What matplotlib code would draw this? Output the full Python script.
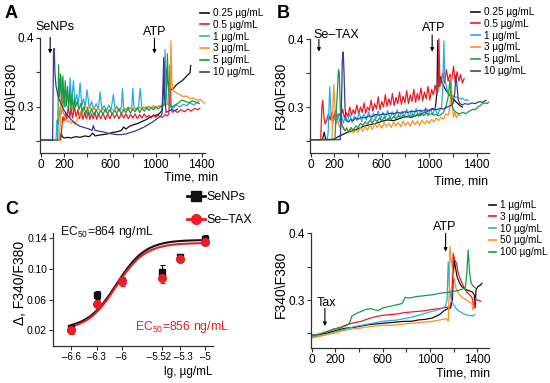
import numpy as np
import matplotlib
matplotlib.use('Agg')
import matplotlib.pyplot as plt
import matplotlib.transforms as mtransforms
from matplotlib.lines import Line2D

plt.rcParams['font.family'] = ['Liberation Sans', 'DejaVu Sans']
plt.rcParams['mathtext.fontset'] = 'custom'
plt.rcParams['mathtext.rm'] = 'Liberation Sans'
plt.rcParams['mathtext.it'] = 'Liberation Sans:italic'

W, H = 550, 383

# ---------------- data ----------------
# panel A: SeNPs, time (min) and F340/F380
a_black_t = [0, 150, 165, 175, 185, 200, 230, 260, 300, 340,
             380, 420, 450, 470, 500, 540, 580, 620, 660, 700,
             720, 740, 770, 800, 840, 880, 920, 960, 1000, 1030,
             1055, 1070, 1080, 1090, 1100, 1115, 1130, 1150, 1180, 1210,
             1230, 1255, 1275, 1290, 1300, 1305]
a_black_v = [0.252, 0.252, 0.253, 0.262, 0.257, 0.255, 0.256, 0.255, 0.257, 0.256,
             0.258, 0.257, 0.262, 0.258, 0.259, 0.260, 0.261, 0.263, 0.264, 0.266,
             0.271, 0.268, 0.272, 0.274, 0.276, 0.279, 0.282, 0.286, 0.288, 0.290,
             0.295, 0.330, 0.366, 0.354, 0.340, 0.330, 0.325, 0.326, 0.332, 0.336,
             0.338, 0.342, 0.346, 0.348, 0.350, 0.360]
a_red_t = [0, 170, 180, 190, 200, 212, 225, 237, 250, 262,
           275, 290, 305, 320, 335, 350, 365, 380, 395, 410,
           425, 440, 455, 470, 485, 500, 520, 540, 560, 580,
           600, 620, 640, 660, 680, 700, 720, 740, 760, 780,
           800, 820, 840, 860, 880, 900, 920, 940, 960, 980,
           1000, 1020, 1040, 1060, 1080, 1100, 1115, 1125, 1133, 1145,
           1165, 1190, 1220, 1250, 1280, 1310, 1340, 1370, 1385]
a_red_v = [0.252, 0.252, 0.270, 0.286, 0.280, 0.292, 0.283, 0.302, 0.285, 0.298,
           0.284, 0.300, 0.286, 0.296, 0.283, 0.294, 0.282, 0.292, 0.283, 0.293,
           0.282, 0.290, 0.283, 0.292, 0.282, 0.290, 0.283, 0.291, 0.282, 0.290,
           0.283, 0.291, 0.284, 0.290, 0.283, 0.291, 0.284, 0.290, 0.283, 0.289,
           0.284, 0.290, 0.283, 0.289, 0.284, 0.290, 0.285, 0.288, 0.284, 0.289,
           0.285, 0.288, 0.286, 0.285, 0.289, 0.287, 0.290, 0.361, 0.300, 0.292,
           0.295, 0.292, 0.296, 0.293, 0.297, 0.294, 0.298, 0.296, 0.298]
a_cyan_t = [0, 130, 138, 150, 165, 180, 195, 210, 225, 240,
            253, 265, 282, 295, 310, 325, 340, 355, 370, 385,
            400, 420, 440, 460, 480, 500, 515, 530, 550, 570,
            590, 610, 630, 645, 660, 680, 700, 710, 720, 740,
            760, 790, 800, 810, 830, 850, 864, 880, 900, 920,
            940, 960, 980, 1000, 1020, 1040, 1060, 1075, 1082, 1090,
            1100, 1120, 1150, 1180, 1210, 1240, 1270, 1300, 1330, 1360,
            1375]
a_cyan_v = [0.252, 0.252, 0.281, 0.275, 0.300, 0.290, 0.315, 0.300, 0.322, 0.305,
            0.342, 0.306, 0.338, 0.305, 0.318, 0.303, 0.335, 0.302, 0.312, 0.300,
            0.325, 0.298, 0.308, 0.296, 0.305, 0.297, 0.322, 0.296, 0.302, 0.295,
            0.303, 0.296, 0.318, 0.297, 0.301, 0.296, 0.300, 0.327, 0.298, 0.296,
            0.300, 0.297, 0.327, 0.298, 0.297, 0.300, 0.327, 0.298, 0.300, 0.297,
            0.301, 0.298, 0.300, 0.299, 0.301, 0.300, 0.302, 0.310, 0.383, 0.330,
            0.305, 0.302, 0.298, 0.303, 0.300, 0.304, 0.302, 0.306, 0.303, 0.306,
            0.308]
a_orange_t = [0, 160, 170, 178, 186, 195, 205, 220, 235, 250,
              265, 280, 295, 310, 325, 340, 355, 370, 385, 400,
              420, 440, 460, 480, 500, 520, 540, 560, 580, 600,
              620, 640, 660, 680, 700, 720, 740, 760, 780, 800,
              820, 840, 860, 880, 900, 920, 940, 960, 980, 1000,
              1020, 1040, 1060, 1080, 1100, 1115, 1125, 1133, 1140, 1150,
              1165, 1185, 1210, 1240, 1270, 1300, 1330, 1360, 1390, 1410,
              1425]
a_orange_v = [0.252, 0.252, 0.290, 0.342, 0.300, 0.292, 0.285, 0.281, 0.278, 0.280,
              0.276, 0.279, 0.275, 0.280, 0.285, 0.290, 0.295, 0.300, 0.302, 0.298,
              0.302, 0.296, 0.300, 0.295, 0.298, 0.294, 0.297, 0.293, 0.296, 0.294,
              0.297, 0.295, 0.298, 0.294, 0.297, 0.295, 0.298, 0.296, 0.299, 0.296,
              0.299, 0.297, 0.300, 0.297, 0.300, 0.298, 0.301, 0.299, 0.302, 0.300,
              0.301, 0.302, 0.300, 0.303, 0.304, 0.306, 0.330, 0.396, 0.340, 0.325,
              0.322, 0.320, 0.318, 0.315, 0.316, 0.312, 0.313, 0.310, 0.311, 0.308,
              0.305]
a_green_t = [0, 145, 152, 160, 170, 180, 190, 200, 210, 220,
             230, 240, 250, 260, 270, 280, 290, 300, 315, 330,
             345, 360, 375, 390, 405, 420, 440, 460, 480, 500,
             520, 540, 560, 580, 600, 620, 640, 660, 680, 700,
             720, 740, 760, 780, 800, 820, 840, 860, 880, 900,
             920, 940, 960, 980, 1000, 1020, 1040, 1060, 1080, 1095,
             1102, 1110, 1120, 1140, 1170, 1200, 1230, 1260, 1290, 1320,
             1350, 1380]
a_green_v = [0.252, 0.252, 0.361, 0.315, 0.348, 0.305, 0.345, 0.300, 0.338, 0.302,
             0.330, 0.298, 0.325, 0.296, 0.318, 0.294, 0.312, 0.300, 0.308, 0.296,
             0.305, 0.292, 0.300, 0.290, 0.298, 0.288, 0.297, 0.289, 0.296, 0.288,
             0.295, 0.289, 0.297, 0.290, 0.296, 0.289, 0.295, 0.291, 0.297, 0.290,
             0.296, 0.292, 0.298, 0.291, 0.297, 0.293, 0.299, 0.292, 0.298, 0.294,
             0.300, 0.295, 0.299, 0.296, 0.300, 0.297, 0.300, 0.302, 0.305, 0.330,
             0.377, 0.330, 0.305, 0.300, 0.303, 0.306, 0.310, 0.308, 0.306, 0.309,
             0.307, 0.305]
a_navy_t = [0, 100, 108, 114, 120, 130, 145, 160, 180, 200,
            230, 260, 300, 340, 380, 420, 445, 455, 470, 500,
            540, 580, 620, 660, 700, 740, 780, 820, 860, 900,
            940, 980, 1020, 1045, 1055, 1063, 1070, 1078, 1090, 1110,
            1140, 1170, 1190]
a_navy_v = [0.252, 0.252, 0.380, 0.385, 0.350, 0.330, 0.318, 0.310, 0.302, 0.295,
            0.288, 0.282, 0.276, 0.272, 0.270, 0.268, 0.266, 0.273, 0.266, 0.265,
            0.264, 0.262, 0.261, 0.260, 0.260, 0.261, 0.263, 0.265, 0.268, 0.271,
            0.275, 0.279, 0.284, 0.287, 0.290, 0.330, 0.372, 0.320, 0.292, 0.294,
            0.296, 0.295, 0.297]

# panel B: Se-TAX
b_black_t = [0, 100, 115, 125, 140, 200, 250, 300, 350, 400,
             450, 500, 550, 600, 650, 700, 750, 800, 850, 900,
             950, 1000, 1030, 1050, 1065, 1072, 1080, 1090, 1110, 1140,
             1170, 1200, 1230, 1260, 1280]
b_black_v = [0.252, 0.252, 0.263, 0.254, 0.252, 0.253, 0.258, 0.262, 0.265, 0.268,
             0.272, 0.274, 0.276, 0.279, 0.281, 0.280, 0.283, 0.286, 0.285, 0.288,
             0.291, 0.295, 0.298, 0.296, 0.320, 0.398, 0.330, 0.345, 0.335, 0.325,
             0.318, 0.312, 0.307, 0.302, 0.300]
b_red_t = [0, 85, 95, 103, 112, 122, 135, 150, 165, 180,
           195, 210, 225, 240, 255, 270, 285, 300, 315, 330,
           345, 360, 375, 390, 405, 420, 435, 450, 465, 480,
           495, 510, 525, 540, 555, 570, 585, 600, 615, 630,
           645, 660, 675, 690, 705, 720, 735, 750, 765, 780,
           795, 810, 825, 840, 855, 870, 885, 900, 915, 930,
           945, 960, 975, 990, 1005, 1020, 1035, 1050, 1065, 1075,
           1082, 1090, 1100, 1115, 1130, 1145, 1160, 1175, 1190, 1205,
           1220, 1235, 1250, 1265, 1280, 1295]
b_red_v = [0.252, 0.252, 0.300, 0.310, 0.285, 0.275, 0.280, 0.290, 0.281, 0.292,
           0.283, 0.295, 0.282, 0.290, 0.285, 0.297, 0.284, 0.292, 0.286, 0.300,
           0.288, 0.296, 0.290, 0.303, 0.289, 0.300, 0.292, 0.306, 0.291, 0.300,
           0.295, 0.310, 0.294, 0.305, 0.297, 0.315, 0.296, 0.308, 0.300, 0.318,
           0.301, 0.312, 0.303, 0.320, 0.302, 0.314, 0.305, 0.322, 0.304, 0.316,
           0.306, 0.324, 0.305, 0.318, 0.308, 0.326, 0.307, 0.320, 0.310, 0.328,
           0.309, 0.322, 0.312, 0.330, 0.310, 0.326, 0.318, 0.332, 0.320, 0.325,
           0.400, 0.330, 0.340, 0.350, 0.335, 0.355, 0.338, 0.348, 0.340, 0.360,
           0.336, 0.352, 0.338, 0.348, 0.335, 0.342]
b_cyan_t = [0, 140, 148, 155, 162, 172, 185, 200, 215, 230,
            245, 260, 275, 290, 310, 330, 350, 370, 390, 410,
            430, 450, 470, 490, 510, 530, 550, 570, 590, 610,
            630, 650, 670, 690, 710, 730, 750, 770, 790, 810,
            830, 850, 870, 890, 910, 930, 950, 970, 990, 1010,
            1030, 1050, 1070, 1090, 1105, 1115, 1124, 1132, 1145, 1160,
            1180, 1200, 1220, 1240, 1260, 1280, 1300, 1315, 1330]
b_cyan_v = [0.252, 0.252, 0.262, 0.300, 0.330, 0.290, 0.275, 0.285, 0.276, 0.290,
            0.278, 0.288, 0.276, 0.284, 0.279, 0.290, 0.277, 0.287, 0.280, 0.292,
            0.279, 0.290, 0.281, 0.293, 0.280, 0.291, 0.283, 0.294, 0.282, 0.292,
            0.284, 0.295, 0.283, 0.293, 0.285, 0.296, 0.284, 0.294, 0.286, 0.297,
            0.285, 0.295, 0.287, 0.298, 0.286, 0.296, 0.288, 0.299, 0.287, 0.297,
            0.289, 0.300, 0.288, 0.296, 0.300, 0.330, 0.397, 0.340, 0.330, 0.320,
            0.318, 0.316, 0.315, 0.314, 0.312, 0.313, 0.310, 0.311, 0.309]
b_orange_t = [0, 180, 188, 195, 205, 215, 230, 245, 260, 275,
              290, 305, 320, 340, 360, 380, 400, 420, 440, 460,
              480, 500, 520, 540, 560, 580, 600, 620, 640, 660,
              680, 700, 720, 740, 760, 780, 800, 820, 840, 860,
              880, 900, 920, 940, 960, 980, 1000, 1020, 1040, 1060,
              1080, 1100, 1120, 1140, 1160, 1175, 1185, 1195, 1205, 1215,
              1230, 1245, 1260]
b_orange_v = [0.252, 0.252, 0.300, 0.333, 0.300, 0.275, 0.280, 0.270, 0.275, 0.268,
              0.265, 0.270, 0.263, 0.268, 0.262, 0.266, 0.263, 0.270, 0.264, 0.272,
              0.266, 0.274, 0.267, 0.276, 0.270, 0.275, 0.269, 0.277, 0.271, 0.276,
              0.270, 0.278, 0.272, 0.277, 0.271, 0.279, 0.273, 0.278, 0.272, 0.280,
              0.274, 0.279, 0.273, 0.281, 0.275, 0.280, 0.276, 0.282, 0.278, 0.283,
              0.280, 0.285, 0.282, 0.290, 0.288, 0.300, 0.345, 0.300, 0.285, 0.292,
              0.284, 0.290, 0.287]
b_green_t = [0, 205, 215, 225, 235, 242, 250, 260, 275, 290,
             305, 320, 340, 360, 380, 400, 420, 440, 460, 480,
             500, 520, 540, 560, 580, 600, 620, 640, 660, 680,
             700, 720, 740, 760, 780, 800, 820, 840, 860, 880,
             900, 920, 940, 960, 980, 1000, 1020, 1040, 1060, 1080,
             1100, 1120, 1140, 1160, 1175, 1185, 1195, 1210, 1230, 1250,
             1270, 1290, 1310, 1330, 1350, 1370, 1390, 1410, 1430, 1450,
             1470, 1490, 1500]
b_green_v = [0.252, 0.252, 0.290, 0.320, 0.355, 0.350, 0.300, 0.275, 0.270, 0.265,
             0.268, 0.263, 0.270, 0.266, 0.272, 0.270, 0.276, 0.273, 0.278, 0.275,
             0.280, 0.277, 0.282, 0.279, 0.283, 0.280, 0.285, 0.281, 0.284, 0.282,
             0.286, 0.283, 0.287, 0.284, 0.288, 0.285, 0.287, 0.286, 0.289, 0.286,
             0.290, 0.287, 0.289, 0.288, 0.291, 0.289, 0.290, 0.288, 0.289, 0.287,
             0.289, 0.292, 0.300, 0.315, 0.340, 0.315, 0.300, 0.295, 0.292, 0.290,
             0.291, 0.292, 0.290, 0.293, 0.295, 0.297, 0.296, 0.300, 0.302, 0.305,
             0.306, 0.305, 0.307]
b_navy_t = [0, 250, 260, 268, 275, 282, 290, 300, 320, 340,
            360, 380, 400, 430, 460, 490, 520, 550, 580, 610,
            640, 670, 700, 730, 760, 790, 820, 850, 880, 910,
            940, 970, 1000, 1030, 1060, 1090, 1120, 1150, 1180, 1200,
            1215, 1225, 1235, 1245, 1260, 1280, 1300, 1330, 1360, 1390,
            1420, 1450, 1480]
b_navy_v = [0.252, 0.252, 0.300, 0.370, 0.381, 0.350, 0.300, 0.280, 0.278, 0.282,
            0.280, 0.284, 0.282, 0.285, 0.284, 0.287, 0.286, 0.289, 0.288, 0.290,
            0.289, 0.291, 0.290, 0.292, 0.291, 0.293, 0.292, 0.294, 0.293, 0.295,
            0.294, 0.296, 0.295, 0.297, 0.296, 0.298, 0.297, 0.300, 0.302, 0.305,
            0.320, 0.346, 0.330, 0.310, 0.305, 0.303, 0.305, 0.304, 0.306, 0.305,
            0.308, 0.307, 0.310]

# panel C: dose-response (lg g/mL)
c_x = [-6.6, -6.3, -6.0, -5.52, -5.3, -5.0]
c_senp = [0.023, 0.066, 0.084, 0.096, 0.116, 0.139]
c_senp_err = [0.004, 0.005, 0.004, 0.009, 0.003, 0.006]
c_setax = [0.020, 0.055, 0.084, 0.088, 0.113, 0.135]
c_setax_err = [0.005, 0.004, 0.006, 0.006, 0.004, 0.004]
ec50_senp = 864    # ng/mL
ec50_setax = 856   # ng/mL
fit_senp = dict(bottom=0.022, top=0.138, hill=2.5)
fit_setax = dict(bottom=0.020, top=0.134, hill=2.5)

# panel D: Tax
d_black_t = [0, 60, 120, 180, 240, 300, 360, 420, 480, 540,
             600, 660, 720, 780, 840, 900, 960, 1020, 1080, 1120,
             1150, 1175, 1190, 1205, 1215, 1230, 1250, 1270, 1300, 1330,
             1360, 1375, 1382, 1390, 1405, 1425, 1440]
d_black_v = [0.247, 0.248, 0.250, 0.253, 0.256, 0.258, 0.259, 0.261, 0.263, 0.264,
             0.265, 0.266, 0.267, 0.268, 0.268, 0.270, 0.271, 0.273, 0.278, 0.284,
             0.287, 0.288, 0.300, 0.363, 0.350, 0.335, 0.326, 0.320, 0.316, 0.314,
             0.312, 0.308, 0.288, 0.315, 0.320, 0.322, 0.325]
d_red_t = [0, 60, 120, 180, 240, 300, 360, 420, 480, 540,
           600, 660, 720, 780, 840, 900, 960, 1020, 1080, 1140,
           1170, 1185, 1197, 1210, 1225, 1240, 1260, 1285, 1310, 1335,
           1352, 1362, 1370, 1385, 1400, 1431]
d_red_v = [0.246, 0.248, 0.252, 0.256, 0.259, 0.263, 0.266, 0.268, 0.272, 0.275,
           0.277, 0.278, 0.279, 0.281, 0.282, 0.283, 0.284, 0.286, 0.287, 0.289,
           0.290, 0.300, 0.370, 0.360, 0.355, 0.340, 0.330, 0.320, 0.312, 0.308,
           0.305, 0.300, 0.288, 0.302, 0.300, 0.298]
d_cyan_t = [0, 60, 120, 180, 240, 300, 360, 420, 480, 540,
            600, 660, 720, 780, 840, 900, 960, 1020, 1080, 1130,
            1145, 1155, 1165, 1180, 1200, 1220, 1240, 1270, 1300, 1330,
            1360, 1380]
d_cyan_v = [0.245, 0.246, 0.248, 0.251, 0.254, 0.257, 0.260, 0.262, 0.264, 0.266,
            0.268, 0.269, 0.270, 0.272, 0.274, 0.277, 0.280, 0.283, 0.286, 0.290,
            0.300, 0.357, 0.320, 0.300, 0.293, 0.288, 0.284, 0.281, 0.278, 0.277,
            0.276, 0.278]
d_orange_t = [0, 60, 120, 180, 240, 300, 360, 420, 480, 540,
              600, 660, 720, 780, 840, 900, 960, 1020, 1080, 1140,
              1155, 1162, 1169, 1180, 1200, 1225, 1250, 1280, 1310, 1340,
              1355, 1365, 1372]
d_orange_v = [0.243, 0.245, 0.248, 0.250, 0.253, 0.255, 0.257, 0.258, 0.260, 0.261,
              0.262, 0.262, 0.263, 0.264, 0.265, 0.266, 0.267, 0.268, 0.270, 0.272,
              0.268, 0.300, 0.380, 0.360, 0.335, 0.315, 0.308, 0.303, 0.300, 0.296,
              0.295, 0.285, 0.292]
d_green_t = [0, 60, 120, 180, 240, 300, 320, 340, 380, 420,
             460, 500, 540, 560, 600, 650, 700, 750, 770, 790,
             830, 880, 930, 980, 1030, 1080, 1130, 1180, 1230, 1270,
             1300, 1312, 1324, 1336, 1350, 1370, 1385]
d_green_v = [0.247, 0.249, 0.252, 0.256, 0.258, 0.262, 0.265, 0.276, 0.280, 0.283,
             0.286, 0.287, 0.285, 0.284, 0.288, 0.290, 0.292, 0.294, 0.296, 0.304,
             0.303, 0.305, 0.306, 0.307, 0.308, 0.310, 0.311, 0.312, 0.314, 0.316,
             0.318, 0.340, 0.375, 0.340, 0.325, 0.320, 0.318]

conc_ab = ['0.25 µg/mL', '0.5 µg/mL', '1 µg/mL', '3 µg/mL', '5 µg/mL', '10 µg/mL']
conc_d = ['1 µg/mL', '3 µg/mL', '10 µg/mL', '50 µg/mL', '100 µg/mL']

# ---------------- style ----------------
BLACK = '#111111'
RED = '#ec1c24'
CYAN = '#29abe2'
ORANGE = '#f7931e'
GREEN = '#1a9a48'
NAVY = '#3a3b98'
AX = '#333333'


def rect(left, top, right, bottom):
    return [left / W, 1 - bottom / H, (right - left) / W, (bottom - top) / H]


def style(ax, tick_fs=8.5):
    for s in ('top', 'right'):
        ax.spines[s].set_visible(False)
    for s in ('left', 'bottom'):
        ax.spines[s].set_linewidth(0.9)
        ax.spines[s].set_color(AX)
    ax.tick_params(which='both', direction='out', length=2.8, width=0.8,
                   color=AX, labelsize=tick_fs, pad=1.5)


def time_axes(ax):
    ax.set_xticks([0, 200, 400, 600, 800, 1000, 1200, 1400])
    ax.set_xticklabels(['0', '200', '', '600', '', '1000', '', '1400'])
    ax.set_yticks([0.25, 0.3, 0.35, 0.4])
    ax.set_yticklabels(['', '0.3', '', '0.4'])


def ylab(x, y, s):
    fig.text(x / W, 1 - y / H, s, rotation=90, ha='center', va='center', fontsize=10)


def arrow(ax, t, y0, y1):
    ax.annotate('', xy=(t, y1), xytext=(t, y0),
                xycoords=ax.get_xaxis_transform(),
                arrowprops=dict(arrowstyle='-|>', lw=0.8, color='k',
                                mutation_scale=5, shrinkA=0, shrinkB=0),
                annotation_clip=False)


fig = plt.figure(figsize=(W / 100, H / 100), dpi=100)

# ---------------- A ----------------
axA = fig.add_axes(rect(40, 38, 205, 153))
for t, v, c in [(a_black_t, a_black_v, BLACK), (a_red_t, a_red_v, RED),
                (a_cyan_t, a_cyan_v, CYAN), (a_orange_t, a_orange_v, ORANGE),
                (a_green_t, a_green_v, GREEN), (a_navy_t, a_navy_v, NAVY)]:
    axA.plot(t, v, color=c, lw=0.9, clip_on=False)
axA.set_xlim(-10, 1430)
axA.set_ylim(0.2333, 0.4)
style(axA)
time_axes(axA)
ylab(11, 95, 'F340\\F380')
fig.text(218 / W, 1 - 177 / H, 'Time, min', ha='right', va='center', fontsize=9)
axA.text(122, 1.096, 'SeNPs', transform=axA.get_xaxis_transform(),
         ha='center', va='center', fontsize=9)
arrow(axA, 79, 1.005, 0.865)
axA.text(995, 1.05, 'ATP', transform=axA.get_xaxis_transform(),
         ha='center', va='center', fontsize=9)
arrow(axA, 989, 1.0, 0.865)
handles = [Line2D([], [], color=c, lw=1.2) for c in (BLACK, RED, CYAN, ORANGE, GREEN, NAVY)]
fig.legend(handles, conc_ab, loc='upper left', bbox_to_anchor=(200 / W, 1 - 8 / H),
           frameon=False, fontsize=7.2, handlelength=0.9, handletextpad=0.4,
           labelspacing=0.18, borderpad=0, borderaxespad=0)

# ---------------- B ----------------
axB = fig.add_axes(rect(310, 39, 488.5, 153))
for t, v, c in [(b_black_t, b_black_v, BLACK), (b_red_t, b_red_v, RED),
                (b_cyan_t, b_cyan_v, CYAN), (b_orange_t, b_orange_v, ORANGE),
                (b_green_t, b_green_v, GREEN), (b_navy_t, b_navy_v, NAVY)]:
    axB.plot(t, v, color=c, lw=0.9, clip_on=False)
axB.set_xlim(-5, 1500)
axB.set_ylim(0.2324, 0.4)
style(axB)
time_axes(axB)
ylab(281, 95, 'F340\\F380')
fig.text(488 / W, 1 - 181 / H, 'Time, min', ha='right', va='center', fontsize=9)
axB.text(215, 1.035, 'Se\u2013TAX', transform=axB.get_xaxis_transform(),
         ha='center', va='center', fontsize=9)
arrow(axB, 70, 0.997, 0.889)
axB.text(1034, 1.10, 'ATP', transform=axB.get_xaxis_transform(),
         ha='center', va='center', fontsize=9)
arrow(axB, 1025, 1.035, 0.889)
fig.legend(handles, conc_ab, loc='upper left', bbox_to_anchor=(471 / W, 1 - 7 / H),
           frameon=False, fontsize=7.2, handlelength=0.9, handletextpad=0.4,
           labelspacing=0.18, borderpad=0, borderaxespad=0)

# ---------------- C ----------------
axC = fig.add_axes(rect(53, 233, 213, 345.7))
xs = np.linspace(c_x[0], c_x[-1], 200)
for fit, ec, c in [(fit_senp, ec50_senp, BLACK), (fit_setax, ec50_setax, RED)]:
    lec = np.log10(ec * 1e-9)
    ys = fit['bottom'] + (fit['top'] - fit['bottom']) / (1 + 10 ** ((lec - xs) * fit['hill']))
    axC.plot(xs, ys, color=c, lw=1.5)
axC.errorbar(c_x, c_senp, yerr=c_senp_err, fmt='s', color=BLACK, ms=5,
             elinewidth=0.8, capsize=1.8, capthick=0.8)
axC.errorbar(c_x, c_setax, yerr=c_setax_err, fmt='o', color=RED, ms=5.5,
             elinewidth=0.8, capsize=1.8, capthick=0.8)
axC.set_xlim(-6.82, -4.91)
axC.set_ylim(0.0, 0.147)
style(axC, tick_fs=7)
axC.set_xticks(c_x)
axC.set_xticklabels(['\u20136.6', '\u20136.3', '\u20136', '\u20135.52', '\u20135.3', '\u20135'])
axC.set_yticks([0.02, 0.06, 0.10, 0.14])
axC.set_yticklabels(['0.02', '0.06', '0.10', '0.14'])
axC.tick_params(axis='y', labelsize=7.4)
xl = axC.get_xticklabels()
for lab, dx in ((xl[3], -3), (xl[4], 3)):
    lab.set_transform(lab.get_transform() +
                      mtransforms.ScaledTranslation(dx / 100, 0, fig.dpi_scale_trans))
ylab(20, 283, '\u0394, F340/F380')
fig.text(213 / W, 1 - 372 / H, 'lg, µg/mL', ha='right', va='center', fontsize=8.5)
fig.text(60 / W, 1 - 232 / H, 'EC$_{50}$=%d ng/mL' % ec50_senp, ha='left',
         va='center', fontsize=8.8, color=BLACK)
fig.text(135 / W, 1 - 327 / H, 'EC$_{50}$=%d ng/mL' % ec50_setax, ha='left',
         va='center', fontsize=8.8, color=RED)
hC = [Line2D([], [], color=BLACK, lw=2, marker='s', ms=7),
      Line2D([], [], color=RED, lw=2, marker='o', ms=7)]
fig.legend(hC, ['SeNPs', 'Se\u2013TAX'], loc='upper left',
           bbox_to_anchor=(187 / W, 1 - 191 / H), frameon=False, fontsize=9,
           handlelength=1.4, handletextpad=0.15, labelspacing=0.9,
           borderpad=0, borderaxespad=0)

# ---------------- D ----------------
axD = fig.add_axes(rect(310.7, 233.3, 489, 348.3))
for t, v, c in [(d_black_t, d_black_v, BLACK), (d_red_t, d_red_v, RED),
                (d_cyan_t, d_cyan_v, CYAN), (d_orange_t, d_orange_v, ORANGE),
                (d_green_t, d_green_v, GREEN)]:
    axD.plot(t, v, color=c, lw=0.9, clip_on=False)
axD.set_xlim(-8, 1500)
axD.set_ylim(0.2276, 0.4)
style(axD)
time_axes(axD)
ylab(281, 284, 'F340\\F380')
fig.text(490 / W, 1 - 373 / H, 'Time, min', ha='right', va='center', fontsize=9)
axD.text(127, 0.397, 'Tax', transform=axD.get_xaxis_transform(),
         ha='center', va='center', fontsize=9)
arrow(axD, 112, 0.348, 0.194)
axD.text(1127, 1.057, 'ATP', transform=axD.get_xaxis_transform(),
         ha='center', va='center', fontsize=9)
arrow(axD, 1133, 1.0, 0.84)
hD = [Line2D([], [], color=c, lw=1.2) for c in (BLACK, RED, CYAN, ORANGE, GREEN)]
fig.legend(hD, conc_d, loc='upper left', bbox_to_anchor=(489 / W, 1 - 200 / H),
           frameon=False, fontsize=7.2, handlelength=0.7, handletextpad=0.4,
           labelspacing=0.18, borderpad=0, borderaxespad=0)

# panel letters
for x, y, s in [(5, 14, 'A'), (277, 14, 'B'), (5, 210, 'C'), (277, 210, 'D')]:
    fig.text(x / W, 1 - y / H, s, fontsize=13, fontweight='bold', va='center', ha='left')

fig.savefig('out.png', dpi=100)
